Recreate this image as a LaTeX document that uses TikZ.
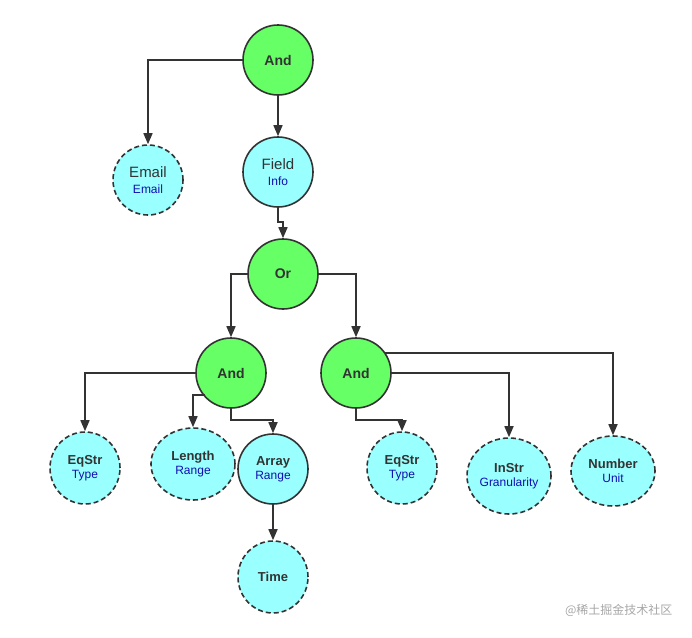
\documentclass[tikz,border=0pt]{standalone}
\usepackage{fontspec}
\setmainfont{Liberation Sans}
\newfontfamily\cjk{Noto Sans CJK SC}
\usetikzlibrary{arrows.meta,shapes.geometric}
\definecolor{gr}{HTML}{66FF66}
\definecolor{cy}{HTML}{99FFFF}
\definecolor{st}{HTML}{333333}
\definecolor{lb}{HTML}{1010B0}
\begin{document}
\begin{tikzpicture}[x=1pt,y=-1pt,
 op/.style={circle,draw=st,line width=1.6pt,fill=gr,minimum size=70pt,inner sep=0pt,font=\fontsize{14}{16}\selectfont\bfseries,text=st},
 leaf/.style={ellipse,draw=st,line width=1.6pt,fill=cy,inner sep=0pt,align=center,text=st,font=\fontsize{13}{15}\selectfont\bfseries},
 dsh/.style={dash pattern=on 5pt off 3pt},
 ar/.style={draw=st,line width=1.6pt,-{Triangle[length=11pt,width=9pt]}}]
\useasboundingbox (0,0) rectangle (692,637);
\newcommand{\sub}[1]{\\[-1pt]{\fontsize{12}{13}\selectfont\mdseries\color{lb}#1}}
\node[op] (a1) at (278,60) {And};
\node[leaf,dsh,minimum width=70pt,minimum height=70pt,font=\fontsize{15}{17}\selectfont] (em) at (148,180) {Email\sub{Email}};
\node[leaf,minimum width=70pt,minimum height=70pt,font=\fontsize{15}{17}\selectfont] (fi) at (278,172) {Field\sub{Info}};
\node[op] (or) at (283,274) {Or};
\node[op] (al) at (231,373) {And};
\node[op] (ar) at (356,373) {And};
\node[leaf,dsh,minimum width=70pt,minimum height=72pt] (e1) at (85,468) {EqStr\sub{Type}};
\node[leaf,dsh,minimum width=84pt,minimum height=72pt] (le) at (193,464) {Length\sub{Range}};
\node[leaf,minimum width=70pt,minimum height=70pt] (arr) at (273,469) {Array\sub{Range}};
\node[leaf,dsh,minimum width=70pt,minimum height=72pt] (ti) at (273,577) {Time};
\node[leaf,dsh,minimum width=70pt,minimum height=72pt] (e2) at (402,468) {EqStr\sub{Type}};
\node[leaf,dsh,minimum width=84pt,minimum height=76pt] (in) at (509,476) {InStr\sub{Granularity}};
\node[leaf,dsh,minimum width=84pt,minimum height=70pt] (nu) at (613,471) {Number\sub{Unit}};
\node[text=gray!70,font=\fontsize{12}{14}\selectfont\cjk,anchor=east] (wm) at (676,610) {@稀土掘金技术社区};
\coordinate (c1) at (148,60);
\coordinate (c2) at (278,222);
\coordinate (c3) at (283,222);
\coordinate (c4) at (231,274);
\coordinate (c5) at (356,274);
\coordinate (c6) at (85,373);
\coordinate (s7) at (205,395);
\coordinate (c7) at (193,395);
\coordinate (c8) at (231,420);
\coordinate (c9) at (273,420);
\coordinate (c10) at (356,420);
\coordinate (c11) at (402,420);
\coordinate (c12) at (509,373);
\coordinate (s13) at (385,353);
\coordinate (c13) at (613,353);
\draw[ar] (a1.west) -- (c1) -- (em.north);
\draw[ar] (a1) -- (fi);
\draw[ar] (fi.south) -- (c2) -- (c3) -- (or.north);
\draw[ar] (or.west) -- (c4) -- (al.north);
\draw[ar] (or.east) -- (c5) -- (ar.north);
\draw[ar] (al.west) -- (c6) -- (e1.north);
\draw[ar] (s7) -- (c7) -- (le.north);
\draw[ar] (al.south) -- (c8) -- (c9) -- (arr.north);
\draw[ar] (arr) -- (ti);
\draw[ar] (ar.south) -- (c10) -- (c11) -- (e2.north);
\draw[ar] (ar.east) -- (c12) -- (in.north);
\draw[ar] (s13) -- (c13) -- (nu.north);
\end{tikzpicture}
\end{document}
